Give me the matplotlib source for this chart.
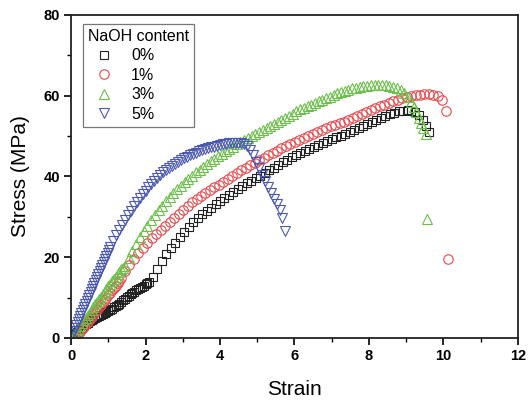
import matplotlib
matplotlib.use("Agg")
import matplotlib.pyplot as plt
from matplotlib.ticker import MultipleLocator

plt.rcParams['font.family'] = ['Liberation Sans', 'DejaVu Sans']

labels = ["0%", "1%", "3%", "5%"]
legend_title = "NaOH content"
x_label = "Strain"
y_label = "Stress (MPa)"

# (strain, stress) points
naoh_0 = [
    (0.0, 0.0), (0.05, 0.4), (0.1, 0.9), (0.15, 1.4), (0.2, 1.9), (0.25, 2.3), (0.3, 2.7),
    (0.35, 3.1), (0.4, 3.4), (0.45, 3.8), (0.5, 4.1), (0.55, 4.4), (0.6, 4.7), (0.65, 5.0),
    (0.7, 5.2), (0.75, 5.5), (0.8, 5.8), (0.85, 6.0), (0.9, 6.3), (0.95, 6.5), (1.0, 6.8),
    (1.05, 7.0), (1.1, 7.3), (1.15, 7.6), (1.2, 7.9), (1.25, 8.2), (1.3, 8.5), (1.35, 8.9),
    (1.4, 9.3), (1.45, 9.7), (1.5, 10.1), (1.55, 10.5), (1.6, 10.9), (1.65, 11.2), (1.7, 11.5),
    (1.75, 11.8), (1.8, 12.1), (1.85, 12.4), (1.9, 12.7), (1.95, 13.0), (2.0, 13.3),
    (2.05, 13.6), (2.1, 13.9),
    (2.2, 15.2), (2.32, 17.2), (2.44, 19.0), (2.56, 20.7), (2.68, 22.2), (2.8, 23.6),
    (2.92, 25.0), (3.04, 26.3), (3.16, 27.5), (3.28, 28.7), (3.4, 29.8), (3.52, 30.7),
    (3.64, 31.5), (3.76, 32.3), (3.88, 33.1), (4.0, 33.9), (4.12, 34.7), (4.24, 35.5),
    (4.36, 36.2), (4.48, 36.9), (4.6, 37.6), (4.72, 38.3), (4.84, 39.0), (4.96, 39.6),
    (5.08, 40.2), (5.2, 40.9), (5.32, 41.6), (5.44, 42.2), (5.56, 42.9), (5.68, 43.5),
    (5.8, 44.1), (5.92, 44.8), (6.04, 45.4), (6.16, 45.9), (6.28, 46.4), (6.4, 46.9),
    (6.52, 47.4), (6.64, 47.9), (6.76, 48.4), (6.88, 48.9), (7.0, 49.3), (7.12, 49.7),
    (7.24, 50.1), (7.36, 50.5), (7.48, 50.9), (7.6, 51.4), (7.72, 51.9), (7.84, 52.4),
    (7.96, 52.9), (8.08, 53.4), (8.2, 53.9), (8.32, 54.4), (8.44, 54.9), (8.56, 55.4),
    (8.68, 55.8), (8.8, 56.1), (8.92, 56.3), (9.04, 56.4), (9.14, 56.3), (9.24, 56.0),
    (9.34, 55.2), (9.44, 54.0), (9.52, 52.6), (9.62, 51.1),
]

naoh_1 = [
    (0.1, 0.2), (0.15, 0.6), (0.2, 1.1), (0.25, 1.6), (0.3, 2.2), (0.35, 2.8), (0.4, 3.4),
    (0.45, 4.0), (0.5, 4.6), (0.55, 5.2), (0.6, 5.8), (0.65, 6.4), (0.7, 7.0), (0.75, 7.6),
    (0.8, 8.2), (0.85, 8.8), (0.9, 9.4), (0.95, 10.0), (1.0, 10.6), (1.05, 11.2), (1.1, 11.8),
    (1.15, 12.4), (1.2, 13.0), (1.25, 13.6), (1.3, 14.2), (1.35, 14.8),
    (1.45, 16.6), (1.57, 18.1), (1.69, 19.6), (1.81, 21.0), (1.93, 22.3), (2.05, 23.5),
    (2.17, 24.7), (2.29, 25.8), (2.41, 26.8), (2.53, 27.8), (2.65, 28.8), (2.77, 29.8),
    (2.89, 30.8), (3.01, 31.8), (3.13, 32.7), (3.25, 33.6), (3.37, 34.4), (3.49, 35.2),
    (3.61, 35.9), (3.73, 36.6), (3.85, 37.3), (3.97, 38.0), (4.09, 38.7), (4.21, 39.4),
    (4.33, 40.1), (4.45, 40.8), (4.57, 41.5), (4.69, 42.2), (4.81, 42.8), (4.93, 43.4),
    (5.05, 44.0), (5.17, 44.6), (5.29, 45.2), (5.41, 45.8), (5.53, 46.4), (5.65, 47.0),
    (5.77, 47.5), (5.89, 48.0), (6.01, 48.5), (6.13, 49.0), (6.25, 49.5), (6.37, 50.0),
    (6.49, 50.5), (6.61, 51.0), (6.73, 51.5), (6.85, 52.0), (6.97, 52.4), (7.09, 52.8),
    (7.21, 53.2), (7.33, 53.6), (7.45, 54.0), (7.57, 54.5), (7.69, 55.0), (7.81, 55.5),
    (7.93, 56.0), (8.05, 56.5), (8.17, 57.0), (8.29, 57.4), (8.41, 57.8), (8.53, 58.2),
    (8.65, 58.6), (8.77, 59.0), (8.89, 59.4), (9.01, 59.7), (9.13, 60.0), (9.25, 60.2),
    (9.37, 60.3), (9.49, 60.4), (9.61, 60.4), (9.73, 60.3), (9.85, 60.0), (9.96, 59.0),
    (10.08, 56.2), (10.12, 19.6),
]

naoh_3 = [
    (0.05, 0.3), (0.1, 0.9), (0.15, 1.6), (0.2, 2.3), (0.25, 3.0), (0.3, 3.7), (0.35, 4.4),
    (0.4, 5.0), (0.45, 5.7), (0.5, 6.3), (0.55, 7.0), (0.6, 7.6), (0.65, 8.3), (0.7, 8.9),
    (0.75, 9.6), (0.8, 10.2), (0.85, 10.9), (0.9, 11.5), (0.95, 12.2), (1.0, 12.8),
    (1.05, 13.4), (1.1, 14.0), (1.15, 14.6), (1.2, 15.2), (1.25, 15.8), (1.3, 16.4),
    (1.35, 17.0), (1.4, 17.4),
    (1.45, 17.8), (1.55, 19.8), (1.65, 21.6), (1.75, 23.3), (1.85, 24.9), (1.95, 26.4),
    (2.05, 27.8), (2.15, 29.2), (2.25, 30.5), (2.35, 31.7), (2.45, 32.8), (2.55, 33.9),
    (2.65, 34.9), (2.75, 35.9), (2.85, 36.8), (2.95, 37.7), (3.05, 38.6), (3.15, 39.4),
    (3.25, 40.2), (3.35, 41.0), (3.45, 41.7), (3.55, 42.4), (3.65, 43.1), (3.75, 43.8),
    (3.85, 44.4), (3.95, 45.0), (4.05, 45.6), (4.15, 46.2), (4.25, 46.8), (4.35, 47.4),
    (4.45, 48.0), (4.55, 48.6), (4.65, 49.1), (4.75, 49.6), (4.85, 50.1), (4.95, 50.6),
    (5.05, 51.1), (5.15, 51.6), (5.25, 52.1), (5.35, 52.6), (5.45, 53.1), (5.55, 53.6),
    (5.65, 54.1), (5.75, 54.6), (5.85, 55.1), (5.95, 55.6), (6.05, 56.1), (6.15, 56.6),
    (6.25, 57.0), (6.35, 57.4), (6.45, 57.8), (6.55, 58.2), (6.65, 58.6), (6.75, 59.0),
    (6.85, 59.4), (6.95, 59.8), (7.05, 60.2), (7.15, 60.6), (7.25, 60.9), (7.35, 61.2),
    (7.45, 61.5), (7.55, 61.8), (7.65, 62.0), (7.75, 62.2), (7.85, 62.4), (7.95, 62.5),
    (8.05, 62.6), (8.15, 62.7), (8.25, 62.7), (8.35, 62.7), (8.45, 62.6), (8.55, 62.4),
    (8.65, 62.2), (8.75, 61.9), (8.85, 61.5), (8.95, 60.7), (9.05, 59.6), (9.13, 58.4),
    (9.2, 57.2), (9.27, 56.0), (9.34, 54.6), (9.4, 53.3), (9.46, 52.0), (9.52, 50.6),
    (9.56, 29.4),
]

naoh_5 = [
    (0.0, 0.4), (0.035, 1.1), (0.07, 1.8), (0.105, 2.5), (0.14, 3.2), (0.175, 3.9),
    (0.21, 4.6), (0.245, 5.4), (0.28, 6.1), (0.315, 6.9), (0.35, 7.6), (0.385, 8.4),
    (0.42, 9.1), (0.455, 9.9), (0.49, 10.6), (0.525, 11.4), (0.56, 12.1), (0.595, 12.9),
    (0.63, 13.6), (0.665, 14.4), (0.7, 15.1), (0.735, 15.9), (0.77, 16.6), (0.805, 17.4),
    (0.84, 18.1), (0.875, 18.9), (0.91, 19.6), (0.945, 20.4), (0.98, 21.1), (1.015, 21.9),
    (1.05, 22.6),
    (1.12, 24.0), (1.2, 25.4), (1.28, 26.7), (1.36, 28.0), (1.44, 29.2), (1.52, 30.4),
    (1.6, 31.5), (1.68, 32.6), (1.76, 33.6), (1.84, 34.6), (1.92, 35.6), (2.0, 36.5),
    (2.08, 37.4), (2.16, 38.2), (2.24, 39.0), (2.32, 39.7), (2.4, 40.4), (2.48, 41.0),
    (2.56, 41.6), (2.64, 42.2), (2.72, 42.7), (2.8, 43.2), (2.88, 43.7), (2.96, 44.1),
    (3.04, 44.5), (3.12, 44.9), (3.2, 45.3), (3.28, 45.6), (3.36, 45.9), (3.44, 46.2),
    (3.52, 46.5), (3.6, 46.8), (3.68, 47.0), (3.76, 47.2), (3.84, 47.4), (3.92, 47.6),
    (4.0, 47.8), (4.08, 48.0), (4.16, 48.1), (4.24, 48.2), (4.32, 48.3), (4.4, 48.3),
    (4.48, 48.3), (4.56, 48.2), (4.64, 48.0), (4.72, 47.6), (4.8, 46.6), (4.88, 45.2),
    (4.96, 43.6), (5.04, 42.0), (5.12, 40.4), (5.2, 38.8), (5.28, 37.3), (5.36, 35.8),
    (5.44, 34.4), (5.52, 33.2), (5.6, 31.6), (5.67, 29.8), (5.75, 26.6),
]

series = [naoh_0, naoh_1, naoh_3, naoh_5]
colors = ["#222222", "#e8474b", "#6cbf4a", "#4a58b0"]
markers = ["s", "o", "^", "v"]
msizes = [6.0, 6.8, 7.2, 7.2]

fig = plt.figure(figsize=(5.28, 4.03), dpi=100)
ax = fig.add_axes([0.1345, 0.1613, 0.8465, 0.8015])

for pts, lab, c, m, ms in zip(series, labels, colors, markers, msizes):
    xs = [p[0] for p in pts]
    ys = [p[1] for p in pts]
    ax.plot(xs, ys, linestyle='none', marker=m, markersize=ms,
            markerfacecolor='none', markeredgecolor=c, markeredgewidth=0.8, label=lab)

ax.set_xlim(0, 12)
ax.set_ylim(0, 80)
ax.xaxis.set_major_locator(MultipleLocator(2))
ax.xaxis.set_minor_locator(MultipleLocator(1))
ax.yaxis.set_major_locator(MultipleLocator(20))
ax.yaxis.set_minor_locator(MultipleLocator(10))
ax.tick_params(which='major', direction='out', length=5, width=1.2, labelsize=10.5, pad=3)
ax.tick_params(which='minor', direction='out', length=3, width=1.0)
for lab in ax.get_xticklabels() + ax.get_yticklabels():
    lab.set_fontweight('bold')
for s in ax.spines.values():
    s.set_linewidth(1.3)
    s.set_color('#222222')

ax.set_xlabel(x_label, fontsize=15, labelpad=12)
ax.set_ylabel(y_label, fontsize=15, labelpad=10)

leg = ax.legend(title=legend_title, loc='upper left', bbox_to_anchor=(0.027, 0.972),
                fontsize=11.5, title_fontsize=11.5, frameon=True, fancybox=False,
                borderaxespad=0, handlelength=2.0, handletextpad=0.7, labelspacing=0.28,
                borderpad=0.3)
leg.get_frame().set_edgecolor('#555555')
leg.get_frame().set_linewidth(0.9)
leg._legend_box.align = "left"

fig.savefig("out.png", dpi=100)
